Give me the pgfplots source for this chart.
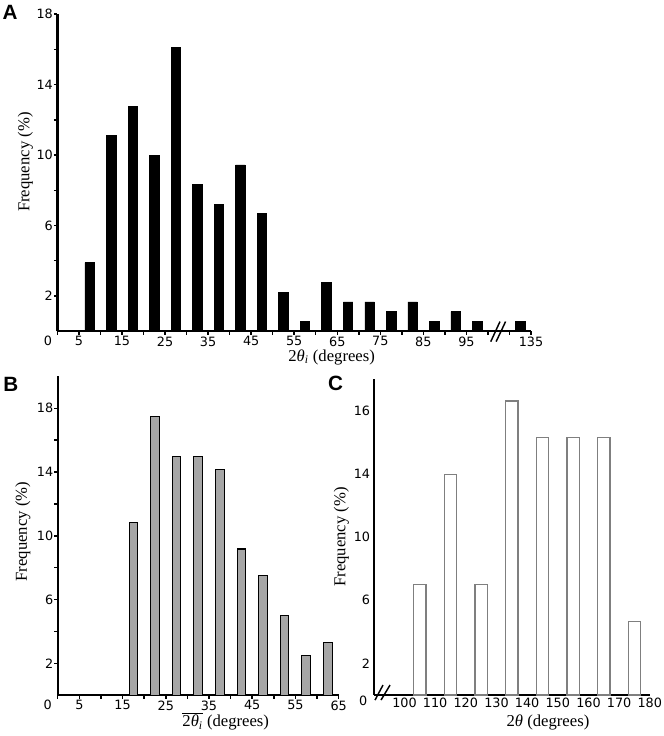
\documentclass[border=0pt]{standalone}
\usepackage{pgfplots}
\pgfplotsset{compat=1.18}
\usepackage{fontspec}
\setmainfont{Liberation Serif}
\newfontfamily\tickfont{DejaVu Sans}
\newfontfamily\panelfont{Liberation Sans}
\definecolor{bargray}{HTML}{A6A6A6}
\definecolor{edgegray}{HTML}{7F7F7F}
\pgfplotsset{
  panel/.style={
    scale only axis,
    axis x line=bottom, axis y line=left,
    axis line style={-, line width=1.8pt, black},
    tick align=outside,
    major tick length=2.6pt,
    every tick/.style={black, line width=1.1pt},
    tick label style={font=\fontsize{9.6}{11}\selectfont\tickfont},
    yticklabel style={inner sep=0.6pt},
    xticklabel style={inner sep=1.2pt},
    label style={font=\fontsize{12.5}{14}\selectfont},
    /pgf/number format/assume math mode=true,
    ymin=0, clip=false,
    xlabel style={anchor=base},
    ylabel style={anchor=center},
  }
}
\begin{document}
\begin{tikzpicture}
\path[use as bounding box] (0,0) rectangle (498pt,552pt);

% ---------- Panel A ----------
\begin{axis}[panel, at={(43.05pt,303.56pt)}, anchor=south west,
  width=355.2pt, height=237.9pt,
  xmin=0, xmax=110, ymax=18,
  xtick={0,5,...,110},
  xticklabels={,5,,15,,25,,35,,45,,55,,65,,75,,85,,95,,,135},
  ytick={2,4,...,18}, yticklabels={2,,6,,10,,14,,18},
  extra x ticks={0}, extra x tick labels={0},
  extra x tick style={major tick length=0pt, tick label style={xshift=-7pt, yshift=-1.9pt}},
  xlabel={2\textit{θ}\textsubscript{\textit{i}} (degrees)},
  xlabel style={at={(axis description cs:0.579,-0.0945)}},
  ylabel={Frequency (\%)},
  ylabel style={at={(axis description cs:-0.0674,0.533)}},
]
\addplot[ybar, bar width=2.2, fill=black, draw=black] coordinates {
 (7.5,3.89) (12.5,11.11) (17.5,12.78) (22.5,10.00) (27.5,16.11)
 (32.5,8.33) (37.5,7.22) (42.5,9.44) (47.5,6.67) (52.5,2.22)
 (57.5,0.56) (62.5,2.78) (67.5,1.67) (72.5,1.67) (77.5,1.11)
 (82.5,1.67) (87.5,0.56) (92.5,1.11) (97.5,0.56) (107.5,0.56)
};
\draw[line width=1.1pt] (axis cs:100.65,-0.59) -- (axis cs:102.8,0.55);
\draw[line width=1.1pt] (axis cs:101.9,-0.59) -- (axis cs:104.1,0.55);
\end{axis}

% ---------- Panel B ----------
\begin{axis}[panel, at={(43.3pt,30.6pt)}, anchor=south west,
  width=210.7pt, height=239.1pt,
  xmin=0, xmax=65, ymax=20,
  xtick={0,5,...,65},
  xticklabels={,5,,15,,25,,35,,45,,55,,65},
  ytick={2,4,...,18}, yticklabels={2,,6,,10,,14,,18},
  extra x ticks={0}, extra x tick labels={0},
  extra x tick style={major tick length=0pt, tick label style={xshift=-7.6pt, yshift=-1.9pt}},
  xlabel={$\overline{\mbox{2\textit{θ}\textsubscript{\textit{i}}}}$ (degrees)},
  xlabel style={at={(axis description cs:0.598,-0.0988)}},
  ylabel={Frequency (\%)},
  ylabel style={at={(axis description cs:-0.1236,0.513)}},
]
\addplot[ybar, bar width=2.0, fill=bargray, draw=black, line width=0.8pt] coordinates {
 (17.5,10.83) (22.5,17.50) (27.5,15.00) (32.5,15.00) (37.5,14.17)
 (42.5,9.17) (47.5,7.50) (52.5,5.00) (57.5,2.50) (62.5,3.33)
};
\end{axis}

% ---------- Panel C ----------
\begin{axis}[panel, at={(280.35pt,30.75pt)}, anchor=south west,
  width=207pt, height=237pt,
  xmin=90, xmax=180, ymax=20,
  major tick length=0pt,
  yticklabel style={inner sep=2.6pt},
  xticklabel style={inner sep=2.3pt},
  xtick={100,110,...,180},
  xticklabels={100,110,120,130,140,150,160,170,180},
  ytick={2,6,10,14,18}, yticklabels={2,6,10,14,16},
  extra x ticks={90}, extra x tick labels={0},
  extra x tick style={tick label style={xshift=-8pt, yshift=2pt}},
  xlabel={2\textit{θ} (degrees)},
  xlabel style={at={(axis description cs:0.631,-0.1003)}},
  ylabel={Frequency (\%)},
  ylabel style={at={(axis description cs:-0.117,0.5)}},
]
\addplot[ybar, bar width=4.0, fill=white, draw=edgegray, line width=1pt] coordinates {
 (105,6.98) (115,13.95) (125,6.98) (135,18.60)
 (145,16.28) (155,16.28) (165,16.28) (175,4.65)
};
\draw[line width=1.1pt] (axis cs:90.4,-0.32) -- (axis cs:93.0,0.63);
\draw[line width=1.1pt] (axis cs:92.35,-0.32) -- (axis cs:95.3,0.63);
\end{axis}

\node[font=\fontsize{15.5}{16}\selectfont\panelfont\bfseries] at (7.5pt,542.6pt) {A};
\node[font=\fontsize{15.5}{16}\selectfont\panelfont\bfseries] at (8.1pt,264pt) {B};
\node[font=\fontsize{15.5}{16}\selectfont\panelfont\bfseries] at (251.6pt,264.75pt) {C};
\end{tikzpicture}
\end{document}
